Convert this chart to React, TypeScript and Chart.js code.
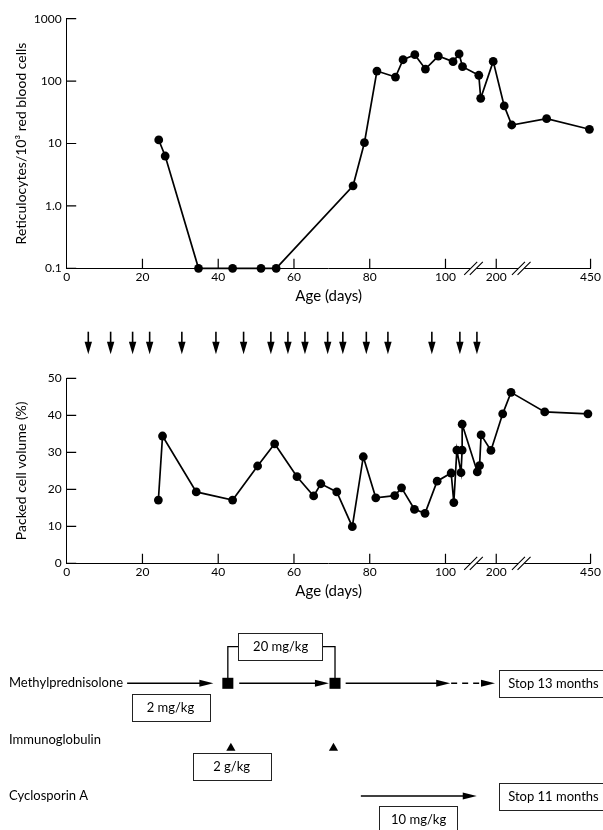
import React, { useEffect, useRef } from 'react';
import { Chart, registerables } from 'chart.js';

Chart.register(...registerables);

// ---------------- data ----------------
// x values are positions on the broken age axis: 0–100 are days,
// after the first break the axis is compressed (113.4 = day 200, 138.3 = day 450)
const xTickPositions = [0, 20, 40, 60, 80, 100, 113.4, 138.3];
const xTickLabels = ['0', '20', '40', '60', '80', '100', '200', '450'];
const xBreakPositions = [107.4, 120.0];
const X_MAX = 138.3;

// Reticulocytes / 10^3 red blood cells (log scale)
const reticX = [24.3, 26.0, 34.8, 43.8, 51.3, 55.3, 75.6, 78.6, 81.9, 86.8, 88.8, 91.9, 94.7, 98.1, 102.0, 103.6, 104.5, 108.8, 109.3, 112.6, 115.5, 117.5, 126.7, 138.0];
const reticY = [11.4, 6.3, 0.1, 0.1, 0.1, 0.1, 2.1, 10.3, 145, 116, 220, 265, 156, 252, 205, 272, 170, 124, 53, 207, 40, 19.8, 25, 16.9];
const reticTicks = [0.1, 1, 10, 100, 1000];
const reticTickLabels = ['0.1', '1.0', '10', '100', '1000'];

// Packed cell volume (%)
const pcvX = [24.2, 25.3, 34.2, 43.8, 50.4, 54.9, 60.8, 65.2, 67.1, 71.3, 75.4, 78.3, 81.6, 86.6, 88.4, 91.8, 94.6, 97.8, 101.5, 102.2, 103.0, 104.1, 104.4, 104.4, 108.4, 109.0, 109.4, 112.0, 115.1, 117.3, 126.2, 137.6];
const pcvY = [17.1, 34.4, 19.3, 17.1, 26.3, 32.3, 23.4, 18.2, 21.5, 19.3, 9.9, 28.8, 17.7, 18.3, 20.4, 14.6, 13.5, 22.2, 24.4, 16.4, 30.6, 24.5, 30.6, 37.6, 24.7, 26.4, 34.7, 30.5, 40.4, 46.2, 40.9, 40.4];

// Transfusions (arrows above the packed cell volume panel)
const transfusionX = [5.7, 11.6, 17.4, 21.9, 30.4, 39.4, 46.7, 53.9, 58.4, 62.9, 68.9, 72.9, 79.1, 84.8, 96.4, 103.8, 108.3];

// Treatment timeline
const treatmentRows = ['Methylprednisolone', 'Immunoglobulin', 'Cyclosporin A'];
const mpPulseX = [42.4, 70.6]; // 20 mg/kg pulses
const ivigX = [43.2, 70.2]; // 2 g/kg
const mpSolidSegments = [[15.9, 38.6], [45.4, 69.0], [73.4, 100.9]];
const mpDashedSegment = [100.9, 112.7];
const csaSegment = [77.4, 107.9];
const doseLabels = ['2 mg/kg', '20 mg/kg', '2 g/kg', '10 mg/kg'];
const stopLabels = ['Stop 13 months', 'Stop 11 months'];

// ---------------- layout ----------------
const FONT = 'Lato, "Open Sans", sans-serif';
const W = 603;
const CHART_LEFT = 66.7;
const PAD_RIGHT = 10.7;
const X_AXIS_H = 36.7;
const TICK_LEN = 9.5;

const tickLabelX = (v: number) => {
  const i = xTickPositions.indexOf(v);
  return i >= 0 ? xTickLabels[i] : '';
};

const xScale = () => ({
  type: 'linear',
  min: 0,
  max: X_MAX,
  afterBuildTicks: (s: any) => {
    s.ticks = xTickPositions.map((v) => ({ value: v }));
  },
  afterFit: (s: any) => {
    s.height = X_AXIS_H;
  },
  grid: { display: false, drawTicks: false },
  border: { display: true, color: '#000', width: 1 },
  ticks: {
    color: '#000',
    font: { family: FONT, size: 12 },
    padding: 2,
    autoSkip: false,
    maxRotation: 0,
    callback: (v: number) => tickLabelX(v),
  },
  title: {
    display: true,
    text: 'Age (days)',
    color: '#000',
    font: { family: FONT, size: 15 },
    padding: 0,
  },
});

const axisDecor = {
  id: 'axisDecor',
  afterDraw(chart: any) {
    const { ctx, chartArea: a, scales } = chart;
    const x = scales.x;
    const y = scales.y;
    ctx.save();
    ctx.strokeStyle = '#000';
    ctx.lineWidth = 1.2;
    ctx.beginPath();
    x.ticks.forEach((t: any) => {
      if (t.value === 0) return;
      const px = x.getPixelForValue(t.value);
      ctx.moveTo(px, a.bottom);
      ctx.lineTo(px, a.bottom - TICK_LEN);
    });
    y.ticks.forEach((t: any) => {
      const py = y.getPixelForValue(t.value);
      ctx.moveTo(a.left, py);
      ctx.lineTo(a.left + TICK_LEN, py);
    });
    ctx.stroke();
    // axis breaks
    xBreakPositions.forEach((b) => {
      const px = x.getPixelForValue(b);
      const py = a.bottom;
      ctx.fillStyle = '#fff';
      ctx.fillRect(px - 3, py - 2, 6, 4);
      ctx.beginPath();
      [-2.8, 2.8].forEach((d) => {
        ctx.moveTo(px + d - 6.5, py + 6.5);
        ctx.lineTo(px + d + 6.5, py - 6.5);
      });
      ctx.lineWidth = 1.1;
      ctx.stroke();
    });
    ctx.restore();
  },
};

const transfusionArrows = {
  id: 'transfusionArrows',
  afterDraw(chart: any) {
    const { ctx, chartArea: a, scales } = chart;
    const x = scales.x;
    ctx.save();
    ctx.strokeStyle = '#000';
    ctx.fillStyle = '#000';
    transfusionX.forEach((d) => {
      const px = x.getPixelForValue(d);
      ctx.beginPath();
      ctx.lineWidth = 1.6;
      ctx.moveTo(px, a.top - 46.6);
      ctx.lineTo(px, a.top - 35);
      ctx.stroke();
      ctx.beginPath();
      ctx.moveTo(px - 3.7, a.top - 36.6);
      ctx.lineTo(px + 3.7, a.top - 36.6);
      ctx.lineTo(px, a.top - 24);
      ctx.closePath();
      ctx.fill();
    });
    ctx.restore();
  },
};

const lineDataset = (xs: number[], ys: number[]) => ({
  data: xs.map((v, i) => ({ x: v, y: ys[i] })),
  borderColor: '#000',
  backgroundColor: '#000',
  borderWidth: 1.7,
  pointRadius: 4.4,
  pointBackgroundColor: '#000',
  pointBorderColor: '#000',
  pointBorderWidth: 0,
  tension: 0,
  clip: false,
});

const baseOptions = (padTop: number) => ({
  animation: false,
  responsive: false,
  events: [],
  layout: { autoPadding: false, padding: { top: padTop, right: PAD_RIGHT, bottom: 0, left: 0 } },
  plugins: { legend: { display: false }, tooltip: { enabled: false } },
});

const yCommon = {
  grid: { display: false, drawTicks: false },
  border: { display: true, color: '#000', width: 1 },
  afterFit: (s: any) => {
    s.width = CHART_LEFT;
  },
};

// Diagram geometry (pixel offsets relative to rows)
const ARROW_HEAD = 14;
const ARROW_HALF = 3.5;
const BOX_H = 26.7;

const diagramPlugin = {
  id: 'diagram',
  afterDraw(chart: any) {
    const { ctx, scales } = chart;
    const x = scales.x;
    const y = scales.y;
    const X = (v: number) => x.getPixelForValue(v);
    const rowMp = y.getPixelForValue(0);
    const rowIg = y.getPixelForValue(1);
    const rowCs = y.getPixelForValue(2);
    ctx.save();
    ctx.strokeStyle = '#000';
    ctx.fillStyle = '#000';
    ctx.font = `13px ${FONT}`;
    ctx.textBaseline = 'middle';
    ctx.textAlign = 'left';
    ctx.fillText(treatmentRows[0], 9, rowMp);
    ctx.fillText(treatmentRows[1], 9, rowIg);
    ctx.fillText(treatmentRows[2], 9, rowCs);

    const arrow = (x1: number, x2: number, yy: number, dashed: boolean) => {
      ctx.beginPath();
      ctx.lineWidth = 1.5;
      ctx.setLineDash(dashed ? [6, 5] : []);
      ctx.moveTo(x1, yy);
      ctx.lineTo(x2 - ARROW_HEAD + 1, yy);
      ctx.stroke();
      ctx.setLineDash([]);
      ctx.beginPath();
      ctx.moveTo(x2 - ARROW_HEAD, yy - ARROW_HALF);
      ctx.lineTo(x2, yy);
      ctx.lineTo(x2 - ARROW_HEAD, yy + ARROW_HALF);
      ctx.closePath();
      ctx.fill();
    };
    mpSolidSegments.forEach(([a, b]) => arrow(X(a), X(b), rowMp, false));
    arrow(X(mpDashedSegment[0]) + 1, X(mpDashedSegment[1]), rowMp, true);
    arrow(X(csaSegment[0]), X(csaSegment[1]), rowCs, false);

    const box = (x1: number, x2: number, cy: number, text: string, left: boolean) => {
      ctx.lineWidth = 1;
      ctx.strokeStyle = '#222';
      ctx.fillStyle = '#fff';
      ctx.fillRect(x1, cy - BOX_H / 2, x2 - x1, BOX_H);
      ctx.strokeRect(Math.round(x1) + 0.5, Math.round(cy - BOX_H / 2) + 0.5, Math.round(x2 - x1), Math.round(BOX_H));
      ctx.fillStyle = '#000';
      ctx.textAlign = left ? 'left' : 'center';
      ctx.fillText(text, left ? x1 + 9 : (x1 + x2) / 2, cy + 0.5);
    };

    // pulse connector to the 20 mg/kg box
    const boxTopCy = rowMp - 36.6;
    const b20x1 = X(45.2);
    const b20x2 = X(67.4);
    ctx.beginPath();
    ctx.lineWidth = 1.3;
    ctx.strokeStyle = '#000';
    ctx.moveTo(X(mpPulseX[0]), rowMp - 5);
    ctx.lineTo(X(mpPulseX[0]), boxTopCy);
    ctx.lineTo(b20x1, boxTopCy);
    ctx.moveTo(b20x2, boxTopCy);
    ctx.lineTo(X(mpPulseX[1]), boxTopCy);
    ctx.lineTo(X(mpPulseX[1]), rowMp - 5);
    ctx.stroke();

    box(b20x1, b20x2, boxTopCy, doseLabels[1], false);
    box(X(17.1), X(37.5), rowMp + 24.2, doseLabels[0], false);
    box(X(33.2), X(53.6), rowIg + 27, doseLabels[2], false);
    box(X(82.3), X(102.9), rowCs + 23.3, doseLabels[3], false);
    box(X(113.8), X(144), rowMp, stopLabels[0], true);
    box(X(113.8), X(144), rowCs, stopLabels[1], true);
    ctx.restore();
  },
};

export default function App() {
  const ref1 = useRef<HTMLCanvasElement>(null);
  const ref2 = useRef<HTMLCanvasElement>(null);
  const ref3 = useRef<HTMLCanvasElement>(null);

  useEffect(() => {
    const c1 = new Chart(ref1.current as HTMLCanvasElement, {
      type: 'line',
      data: { datasets: [lineDataset(reticX, reticY)] as any },
      options: {
        ...baseOptions(18.7),
        scales: {
          x: xScale(),
          y: {
            ...yCommon,
            type: 'logarithmic',
            min: 0.1,
            max: 1000,
            afterBuildTicks: (s: any) => {
              s.ticks = reticTicks.map((v) => ({ value: v }));
            },
            ticks: {
              color: '#000',
              font: { family: FONT, size: 12 },
              padding: 5,
              callback: (v: number) => {
                const i = reticTicks.indexOf(v);
                return i >= 0 ? reticTickLabels[i] : '';
              },
            },
            title: {
              display: true,
              text: 'Reticulocytes/10³ red blood cells',
              color: '#000',
              font: { family: FONT, size: 14 },
              padding: { top: 13, bottom: 0 },
            },
          },
        },
      } as any,
      plugins: [axisDecor],
    });

    const c2 = new Chart(ref2.current as HTMLCanvasElement, {
      type: 'line',
      data: { datasets: [lineDataset(pcvX, pcvY)] as any },
      options: {
        ...baseOptions(83.3),
        scales: {
          x: xScale(),
          y: {
            ...yCommon,
            type: 'linear',
            min: 0,
            max: 50,
            ticks: {
              stepSize: 10,
              color: '#000',
              font: { family: FONT, size: 12 },
              padding: 5,
            },
            title: {
              display: true,
              text: 'Packed cell volume (%)',
              color: '#000',
              font: { family: FONT, size: 14 },
              padding: { top: 13, bottom: 0 },
            },
          },
        },
      } as any,
      plugins: [axisDecor, transfusionArrows],
    });

    const c3 = new Chart(ref3.current as HTMLCanvasElement, {
      type: 'scatter',
      data: {
        datasets: [
          {
            data: mpPulseX.map((v) => ({ x: v, y: 0 })),
            pointStyle: 'rect',
            pointRadius: 7.8,
            backgroundColor: '#000',
            borderColor: '#000',
            borderWidth: 0,
            clip: false,
          },
          {
            data: ivigX.map((v) => ({ x: v, y: 1.15 })),
            pointStyle: 'triangle',
            pointRadius: 5.3,
            backgroundColor: '#000',
            borderColor: '#000',
            borderWidth: 0,
            clip: false,
          },
        ] as any,
      },
      options: {
        animation: false,
        responsive: false,
        events: [],
        layout: { autoPadding: false, padding: { top: 0, right: PAD_RIGHT, bottom: 0, left: CHART_LEFT } },
        plugins: { legend: { display: false }, tooltip: { enabled: false } },
        scales: {
          x: { type: 'linear', min: 0, max: X_MAX, display: false },
          y: { type: 'linear', min: -1.478, max: 2.603, reverse: true, display: false },
        },
      } as any,
      plugins: [diagramPlugin],
    });

    return () => {
      c1.destroy();
      c2.destroy();
      c3.destroy();
    };
  }, []);

  return (
    <div style={{ position: 'absolute', left: 0, top: 0, width: W, height: 830, background: '#fff', overflow: 'hidden' }}>
      <canvas ref={ref1} width={W} height={305} style={{ position: 'absolute', left: 0, top: 0, width: W, height: 305 }} />
      <canvas ref={ref2} width={W} height={305} style={{ position: 'absolute', left: 0, top: 295, width: W, height: 305 }} />
      <canvas ref={ref3} width={W} height={230} style={{ position: 'absolute', left: 0, top: 600, width: W, height: 230 }} />
    </div>
  );
}
